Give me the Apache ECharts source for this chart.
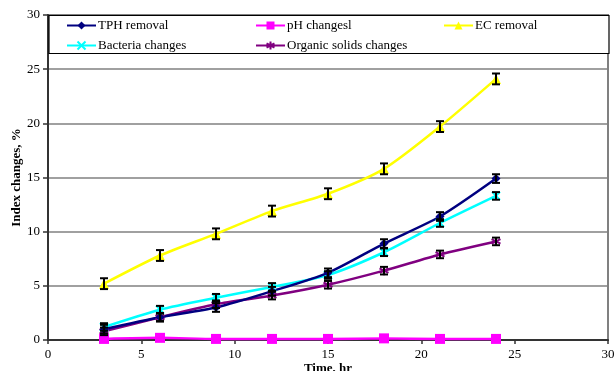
<!DOCTYPE html>
<html><head><meta charset="utf-8">
<script src="https://cdn.jsdelivr.net/npm/echarts@6/dist/echarts.min.js"></script>
<style>html,body{margin:0;padding:0;background:#fff}#c{width:615px;height:371px}</style>
</head><body><div id="c"></div>
<script>
var times = [3, 6, 9, 12, 15, 18, 21, 24];
var tphRemoval = [1.0, 2.1, 3.0, 4.5, 6.2, 8.9, 11.4, 14.9];
var phChanges = [0.1, 0.2, 0.1, 0.1, 0.1, 0.15, 0.1, 0.1];
var ecRemoval = [5.2, 7.8, 9.8, 11.9, 13.5, 15.8, 19.7, 24.1];
var bacteriaChanges = [1.2, 2.8, 3.9, 4.9, 6.0, 8.1, 10.8, 13.3];
var organicChanges = [0.8, 2.1, 3.3, 4.1, 5.1, 6.4, 7.9, 9.1];
var errTph = [0.4, 0.4, 0.4, 0.4, 0.4, 0.4, 0.4, 0.4];
var errEc = [0.5, 0.5, 0.5, 0.5, 0.5, 0.5, 0.5, 0.5];
var errBac = [0.35, 0.35, 0.35, 0.35, 0.35, 0.35, 0.35, 0.35];
var errOrg = [0.35, 0.35, 0.35, 0.35, 0.35, 0.35, 0.35, 0.35];
var xTicks = [0, 5, 10, 15, 20, 25, 30];
var yTicks = [0, 5, 10, 15, 20, 25, 30];

var FONT = '"Liberation Serif", "Times New Roman", serif';
function pairs(v){ return times.map(function(t,i){ return [t, v[i]]; }); }
function errData(v, e){ return times.map(function(t,i){ return [t, v[i]-e[i], v[i]+e[i]]; }); }
function errSeries(v, e){
  return {
    type: 'custom', z: 5, silent: true,
    data: errData(v, e),
    renderItem: function(params, api){
      var lo = api.coord([api.value(0), api.value(1)]);
      var hi = api.coord([api.value(0), api.value(2)]);
      var w = 4;
      var st = {stroke: '#000', lineWidth: 2};
      return {type: 'group', children: [
        {type: 'line', shape: {x1: lo[0], y1: lo[1], x2: hi[0], y2: hi[1]}, style: st},
        {type: 'line', shape: {x1: lo[0]-w, y1: lo[1], x2: lo[0]+w, y2: lo[1]}, style: st},
        {type: 'line', shape: {x1: hi[0]-w, y1: hi[1], x2: hi[0]+w, y2: hi[1]}, style: st}
      ]};
    }
  };
}
function lineSeries(name, v, color, symbol, size, stroke){
  return {
    name: name, type: 'line', data: pairs(v), smooth: 0.25,
    symbol: symbol, symbolSize: size,
    lineStyle: {color: color, width: 2.5},
    itemStyle: stroke ? {color: color, borderColor: color, borderWidth: 2} : {color: color},
    z: 3
  };
}
var asterisk = 'path://M0,-5L0,5M-4.3,-2.5L4.3,2.5M-4.3,2.5L4.3,-2.5';
var cross = 'path://M-4,-4L4,4M-4,4L4,-4';

var legendCommon = {itemWidth: 29, itemHeight: 10, z: 100, padding: 0,
  textStyle: {fontFamily: FONT, fontSize: 13, color: '#000', padding: [0,0,0,-3]}};
function lg(name, left, top){
  return Object.assign({data: [name], left: left, top: top}, legendCommon);
}

var chart = echarts.init(document.getElementById('c'));
chart.setOption({
  animation: false,
  backgroundColor: '#fff',
  textStyle: {fontFamily: FONT},
  grid: {left: 48, right: 7, top: 15, bottom: 31, outerBoundsMode: 'none', containLabel: false,
         show: true, borderColor: '#808080', borderWidth: 2, backgroundColor: '#fff'},
  xAxis: {
    type: 'value', min: 0, max: 30, interval: 5,
    name: 'Time, hr', nameLocation: 'middle', nameGap: 22, nameMoveOverlap: false,
    nameTextStyle: {fontFamily: FONT, fontWeight: 'bold', fontSize: 13, color: '#000'},
    axisLine: {show: true, onZero: false, lineStyle: {color: '#333', width: 2}},
    axisTick: {show: true, inside: false, length: 4, lineStyle: {color: '#333', width: 1.5}},
    axisLabel: {fontFamily: FONT, fontSize: 13, color: '#000', margin: 8},
    splitLine: {show: false}
  },
  yAxis: {
    type: 'value', min: 0, max: 30, interval: 5,
    name: 'Index changes, %', nameLocation: 'middle', nameGap: 25, nameMoveOverlap: false,
    nameTextStyle: {fontFamily: FONT, fontWeight: 'bold', fontSize: 13, color: '#000'},
    axisLine: {show: true, lineStyle: {color: '#333', width: 2}},
    axisTick: {show: true, inside: false, length: 5, lineStyle: {color: '#333', width: 1.5}},
    axisLabel: {fontFamily: FONT, fontSize: 13, color: '#000', margin: 8},
    splitLine: {show: true, lineStyle: {color: '#808080', width: 1.5}}
  },
  graphic: [{
    type: 'rect', z: 90, shape: {x: 49, y: 15.5, width: 560, height: 38},
    style: {fill: '#fff', stroke: '#000', lineWidth: 1.2}
  }],
  legend: [
    lg('TPH removal', 66, 19),
    lg('pH changesl', 255, 19),
    lg('EC removal', 443, 19),
    lg('Bacteria changes', 66, 39),
    lg('Organic solids changes', 255, 39)
  ],
  series: [
    lineSeries('EC removal', ecRemoval, '#FFFF00', 'triangle', 10),
    lineSeries('Organic solids changes', organicChanges, '#800080', asterisk, 9, true),
    lineSeries('Bacteria changes', bacteriaChanges, '#00FFFF', cross, 8, true),
    lineSeries('TPH removal', tphRemoval, '#000080', 'diamond', 9),
    lineSeries('pH changesl', phChanges, '#FF00FF', 'rect', 10),
    errSeries(ecRemoval, errEc),
    errSeries(tphRemoval, errTph),
    errSeries(bacteriaChanges, errBac),
    errSeries(organicChanges, errOrg)
  ]
});
</script></body></html>
